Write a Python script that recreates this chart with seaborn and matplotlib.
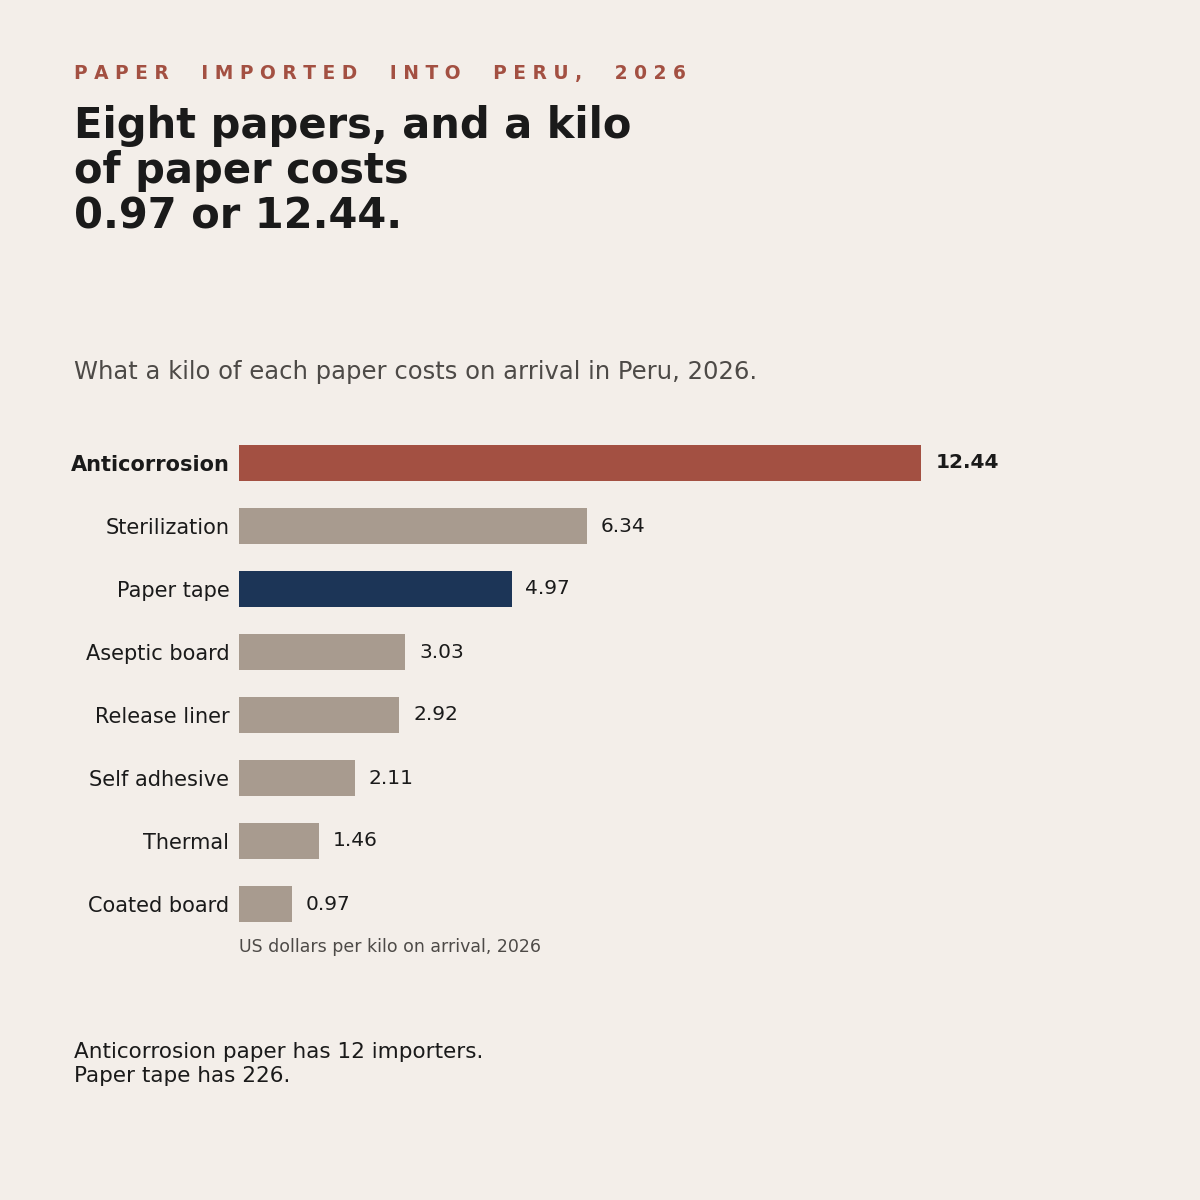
import pandas as pd
import seaborn as sns
import matplotlib.pyplot as plt

papeles = ['Anticorrosion', 'Sterilization', 'Paper tape', 'Aseptic board',
           'Release liner', 'Self adhesive', 'Thermal', 'Coated board']
precios = [12.44, 6.34, 4.97, 3.03, 2.92, 2.11, 1.46, 0.97]

FONDO = '#f3eee9'
ROJO = '#a35042'
GRIS = '#a89b8f'
AZUL = '#1c3557'
TINTA = '#1a1a1a'

colores = {p: GRIS for p in papeles}
colores['Anticorrosion'] = ROJO
colores['Paper tape'] = AZUL


def espaciar(texto):
    palabras = texto.split(' ')
    return '     '.join(' '.join(p) for p in palabras)


df = pd.DataFrame({'papel': papeles, 'precio': precios})

sns.set_theme(style='white')
plt.rcParams['font.family'] = ['DejaVu Sans']

fig = plt.figure(figsize=(12, 12), dpi=100, facecolor=FONDO)
ax = fig.add_axes([239 / 1200, 1 - 935.5 / 1200, 887 / 1200, 504 / 1200])
ax.set_facecolor(FONDO)

sns.barplot(
    data=df, x='precio', y='papel', hue='papel',
    palette=colores, orient='h', width=0.56,
    legend=False, ax=ax, saturation=1, linewidth=0
)

ax.set_xlim(0, max(precios) * 1.3)
ax.set_xlabel('')
ax.set_ylabel('')
ax.set_xticks([])
for s in ax.spines.values():
    s.set_visible(False)
ax.tick_params(axis='y', length=0, pad=7, labelsize=15, labelcolor=TINTA)
for etiqueta in ax.get_yticklabels():
    if etiqueta.get_text() == 'Anticorrosion':
        etiqueta.set_fontweight('bold')

for cont in ax.containers:
    textos = ax.bar_label(cont, fmt='%.2f', padding=10, fontsize=14.5, color=TINTA)
    for t in textos:
        if t.get_text() == f'{max(precios):.2f}':
            t.set_fontweight('bold')

fig.text(239 / 1200, 1 - 947 / 1200, 'US dollars per kilo on arrival, 2026',
         fontsize=12.5, color='#4d4a47', va='center', ha='left')

fig.text(74 / 1200, 1 - 73 / 1200, espaciar('PAPER IMPORTED INTO PERU, 2026'),
         fontsize=13.45, fontweight='bold', color=ROJO, va='center', ha='left')
fig.text(74 / 1200, 1 - 105 / 1200,
         'Eight papers, and a kilo\nof paper costs\n0.97 or 12.44.',
         fontsize=30, fontweight='bold', color=TINTA, va='top', ha='left',
         linespacing=1.1)
fig.text(74 / 1200, 1 - 372 / 1200,
         'What a kilo of each paper costs on arrival in Peru, 2026.',
         fontsize=17.5, color='#4d4a47', va='center', ha='left')
fig.text(74 / 1200, 1 - 1064 / 1200,
         'Anticorrosion paper has 12 importers.\nPaper tape has 226.',
         fontsize=15.5, color=TINTA, va='center', ha='left', linespacing=1.2)

fig.savefig('out.png', dpi=100, facecolor=FONDO)
